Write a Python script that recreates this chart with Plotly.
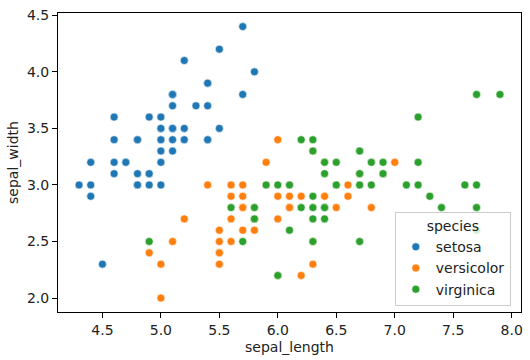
import plotly.graph_objects as go

setosa_len = [5.1,4.9,4.7,4.6,5.0,5.4,4.6,5.0,4.4,4.9,5.4,4.8,4.8,4.3,5.8,5.7,5.4,5.1,5.7,5.1,
              5.4,5.1,4.6,5.1,4.8,5.0,5.0,5.2,5.2,4.7,4.8,5.4,5.2,5.5,4.9,5.0,5.5,4.9,4.4,5.1,
              5.0,4.5,4.4,5.0,5.1,4.8,5.1,4.6,5.3,5.0]
setosa_wid = [3.5,3.0,3.2,3.1,3.6,3.9,3.4,3.4,2.9,3.1,3.7,3.4,3.0,3.0,4.0,4.4,3.9,3.5,3.8,3.8,
              3.4,3.7,3.6,3.3,3.4,3.0,3.4,3.5,3.4,3.2,3.1,3.4,4.1,4.2,3.1,3.2,3.5,3.6,3.0,3.4,
              3.5,2.3,3.2,3.5,3.8,3.0,3.8,3.2,3.7,3.3]
versicolor_len = [7.0,6.4,6.9,5.5,6.5,5.7,6.3,4.9,6.6,5.2,5.0,5.9,6.0,6.1,5.6,6.7,5.6,5.8,6.2,5.6,
                  5.9,6.1,6.3,6.1,6.4,6.6,6.8,6.7,6.0,5.7,5.5,5.5,5.8,6.0,5.4,6.0,6.7,6.3,5.6,5.5,
                  5.5,6.1,5.8,5.0,5.6,5.7,5.7,6.2,5.1,5.7]
versicolor_wid = [3.2,3.2,3.1,2.3,2.8,2.8,3.3,2.4,2.9,2.7,2.0,3.0,2.2,2.9,2.9,3.1,3.0,2.7,2.2,2.5,
                  3.2,2.8,2.5,2.8,2.9,3.0,2.8,3.0,2.9,2.6,2.4,2.4,2.7,2.7,3.0,3.4,3.1,2.3,3.0,2.5,
                  2.6,3.0,2.6,2.3,2.7,3.0,2.9,2.9,2.5,2.8]
virginica_len = [6.3,5.8,7.1,6.3,6.5,7.6,4.9,7.3,6.7,7.2,6.5,6.4,6.8,5.7,5.8,6.4,6.5,7.7,7.7,6.0,
                 6.9,5.6,7.7,6.3,6.7,7.2,6.2,6.1,6.4,7.2,7.4,7.9,6.4,6.3,6.1,7.7,6.3,6.4,6.0,6.9,
                 6.7,6.9,5.8,6.8,6.7,6.7,6.3,6.5,6.2,5.9]
virginica_wid = [3.3,2.7,3.0,2.9,3.0,3.0,2.5,2.9,2.5,3.6,3.2,2.7,3.0,2.5,2.8,3.2,3.0,3.8,2.6,2.2,
                 3.2,2.8,2.8,2.7,3.3,3.2,2.8,3.0,2.8,3.0,2.8,3.8,2.8,2.8,2.6,3.0,3.4,3.1,3.0,3.1,
                 3.1,3.1,2.7,3.2,3.3,3.0,2.5,3.0,3.4,3.0]

species = ["setosa", "versicolor", "virginica"]
colors = ["#1f77b4", "#ff7f0e", "#2ca02c"]
data = [(setosa_len, setosa_wid), (versicolor_len, versicolor_wid), (virginica_len, virginica_wid)]

font = "DejaVu Sans, sans-serif"
fig = go.Figure()
for name, col, (xs, ys) in zip(species, colors, data):
    fig.add_trace(go.Scatter(x=xs, y=ys, mode="markers", name=name,
                             marker=dict(color=col, size=8, line=dict(color="white", width=0.6))))

axis_common = dict(showgrid=False, zeroline=False, showline=True, linecolor="black", linewidth=1,
                   mirror=True, ticks="outside", ticklen=5, tickcolor="black", tickwidth=1,
                   tickfont=dict(family=font, size=14, color="#222"))
fig.update_layout(
    width=530, height=360,
    margin=dict(l=58, r=7, t=12, b=47),
    plot_bgcolor="white", paper_bgcolor="white",
    font=dict(family=font, size=14, color="#222"),
    xaxis=dict(range=[4.12, 8.08], tickvals=[4.5,5.0,5.5,6.0,6.5,7.0,7.5,8.0],
               ticktext=["4.5","5.0","5.5","6.0","6.5","7.0","7.5","8.0"],
               title=dict(text="sepal_length", font=dict(family=font, size=14, color="#222"), standoff=5),
               **axis_common),
    yaxis=dict(range=[1.877, 4.52], tickvals=[2.0,2.5,3.0,3.5,4.0,4.5],
               ticktext=["2.0","2.5","3.0","3.5","4.0","4.5"],
               title=dict(text="sepal_width", font=dict(family=font, size=14, color="#222"), standoff=5),
               **axis_common),
    legend=dict(x=0.978, y=0.02, xanchor="right", yanchor="bottom",
                bgcolor="rgba(255,255,255,0.8)", bordercolor="#cccccc", borderwidth=1,
                title=dict(text="species", side="top center", font=dict(family=font, size=14)),
                font=dict(family=font, size=14, color="#222")),
)
fig.write_html("out.html", config={"displayModeBar": False},
               post_script="document.body.style.margin='0';document.body.style.padding='0';")
